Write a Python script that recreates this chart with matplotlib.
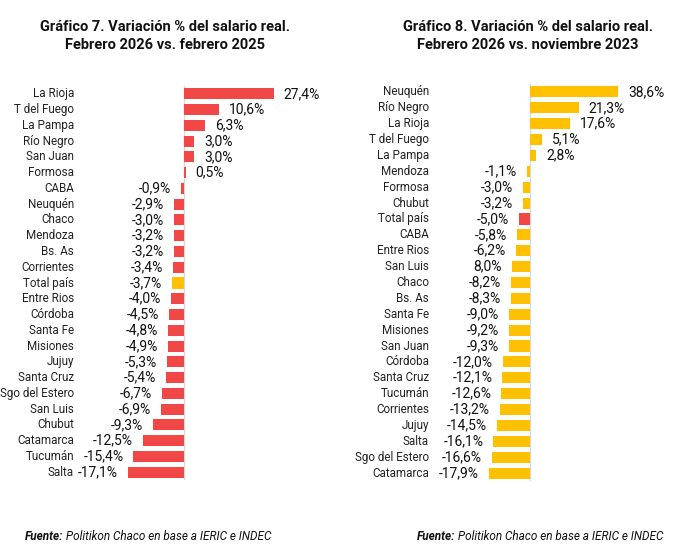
import matplotlib.pyplot as plt
from matplotlib.transforms import offset_copy

plt.rcParams['font.family'] = ['Roboto', 'DejaVu Sans']

RED = '#F24747'
YELLOW = '#FFC000'

# Grafico 7: febrero 2026 vs. febrero 2025
prov_7 = ['La Rioja', 'T del Fuego', 'La Pampa', 'Río Negro', 'San Juan', 'Formosa',
          'CABA', 'Neuquén', 'Chaco', 'Mendoza', 'Bs. As', 'Corrientes', 'Total país',
          'Entre Rios', 'Córdoba', 'Santa Fe', 'Misiones', 'Jujuy', 'Santa Cruz',
          'Sgo del Estero', 'San Luis', 'Chubut', 'Catamarca', 'Tucumán', 'Salta']
var_7 = [27.4, 10.6, 6.3, 3.0, 3.0, 0.5, -0.9, -2.9, -3.0, -3.2, -3.2, -3.4, -3.7,
         -4.0, -4.5, -4.8, -4.9, -5.3, -5.4, -6.7, -6.9, -9.3, -12.5, -15.4, -17.1]

# Grafico 8: febrero 2026 vs. noviembre 2023
prov_8 = ['Neuquén', 'Río Negro', 'La Rioja', 'T del Fuego', 'La Pampa', 'Mendoza',
          'Formosa', 'Chubut', 'Total país', 'CABA', 'Entre Rios', 'San Luis', 'Chaco',
          'Bs. As', 'Santa Fe', 'Misiones', 'San Juan', 'Córdoba', 'Santa Cruz',
          'Tucumán', 'Corrientes', 'Jujuy', 'Salta', 'Sgo del Estero', 'Catamarca']
var_8 = [38.6, 21.3, 17.6, 5.1, 2.8, -1.1, -3.0, -3.2, -5.0, -5.8, -6.2, -8.0, -8.2,
         -8.3, -9.0, -9.2, -9.3, -12.0, -12.1, -12.6, -13.2, -14.5, -16.1, -16.6, -17.9]
# etiquetas tal como aparecen en el original (San Luis sin signo)
lab_8 = ['38,6%', '21,3%', '17,6%', '5,1%', '2,8%', '-1,1%', '-3,0%', '-3,2%', '-5,0%',
         '-5,8%', '-6,2%', '8,0%', '-8,2%', '-8,3%', '-9,0%', '-9,2%', '-9,3%', '-12,0%',
         '-12,1%', '-12,6%', '-13,2%', '-14,5%', '-16,1%', '-16,6%', '-17,9%']

W, H = 693, 559
fig = plt.figure(figsize=(W / 100, H / 100), dpi=100)


def px_axes(x0, y0, x1, y1):
    return fig.add_axes([x0 / W, 1 - y1 / H, (x1 - x0) / W, (y1 - y0) / H])


def draw(ax, names, vals, labels, colors, xlim, name_x):
    n = len(names)
    y = list(range(n))
    ax.barh(y, vals, height=0.7, color=colors)
    ax.set_xlim(*xlim)
    ax.set_ylim(n - 0.5, -0.5)
    ax.axvline(0, color='#d9d9d9', lw=1, zorder=0)
    for i, (v, lab) in enumerate(zip(vals, labels)):
        if v >= 0:
            t = offset_copy(ax.transData, fig=fig, x=10, y=0, units='dots')
            ax.text(v, i, lab, transform=t, ha='left', va='center', fontsize=10, color='#111111')
        else:
            t = offset_copy(ax.transData, fig=fig, x=-10, y=0, units='dots')
            ax.text(v, i, lab, transform=t, ha='right', va='center', fontsize=10, color='#111111')
        ax.text(name_x, i, names[i], ha='right', va='center', fontsize=8.4, color='#222222')
    ax.axis('off')


fmt = lambda v: f'{v:.1f}%'.replace('.', ',')

ax1 = px_axes(10, 86, 340, 480)
col_7 = [YELLOW if p == 'Total país' else RED for p in prov_7]
scale1 = 3.28
draw(ax1, prov_7, var_7, [fmt(v) for v in var_7], col_7,
     ((10 - 184) / scale1, (340 - 184) / scale1), (74 - 184) / scale1)

ax2 = px_axes(360, 84, 690, 481)
col_8 = [RED if p == 'Total país' else YELLOW for p in prov_8]
scale2 = 2.28
draw(ax2, prov_8, var_8, lab_8, col_8,
     ((360 - 530) / scale2, (690 - 530) / scale2), (429 - 530) / scale2)

fig.text(165 / W, 1 - 36 / H, 'Gráfico 7. Variación % del salario real.\nFebrero 2026 vs. febrero 2025',
         ha='center', va='center', fontsize=10.5, fontweight='bold', linespacing=1.35, color='#111111')
fig.text(528 / W, 1 - 36 / H, 'Gráfico 8. Variación % del salario real.\nFebrero 2026 vs. noviembre 2023',
         ha='center', va='center', fontsize=10.5, fontweight='bold', linespacing=1.35, color='#111111')

for x0 in (25, 417):
    t1 = fig.text(x0 / W, 1 - 540 / H, 'Fuente:', fontsize=8.5, fontweight='bold', style='italic',
                  va='baseline', color='#111111')
    ax1.annotate(' Politikon Chaco en base a IERIC e INDEC', xy=(1, 0), xycoords=t1,
                 fontsize=8.5, style='italic', va='bottom', color='#111111', annotation_clip=False)

fig.savefig('out.png', dpi=100)
